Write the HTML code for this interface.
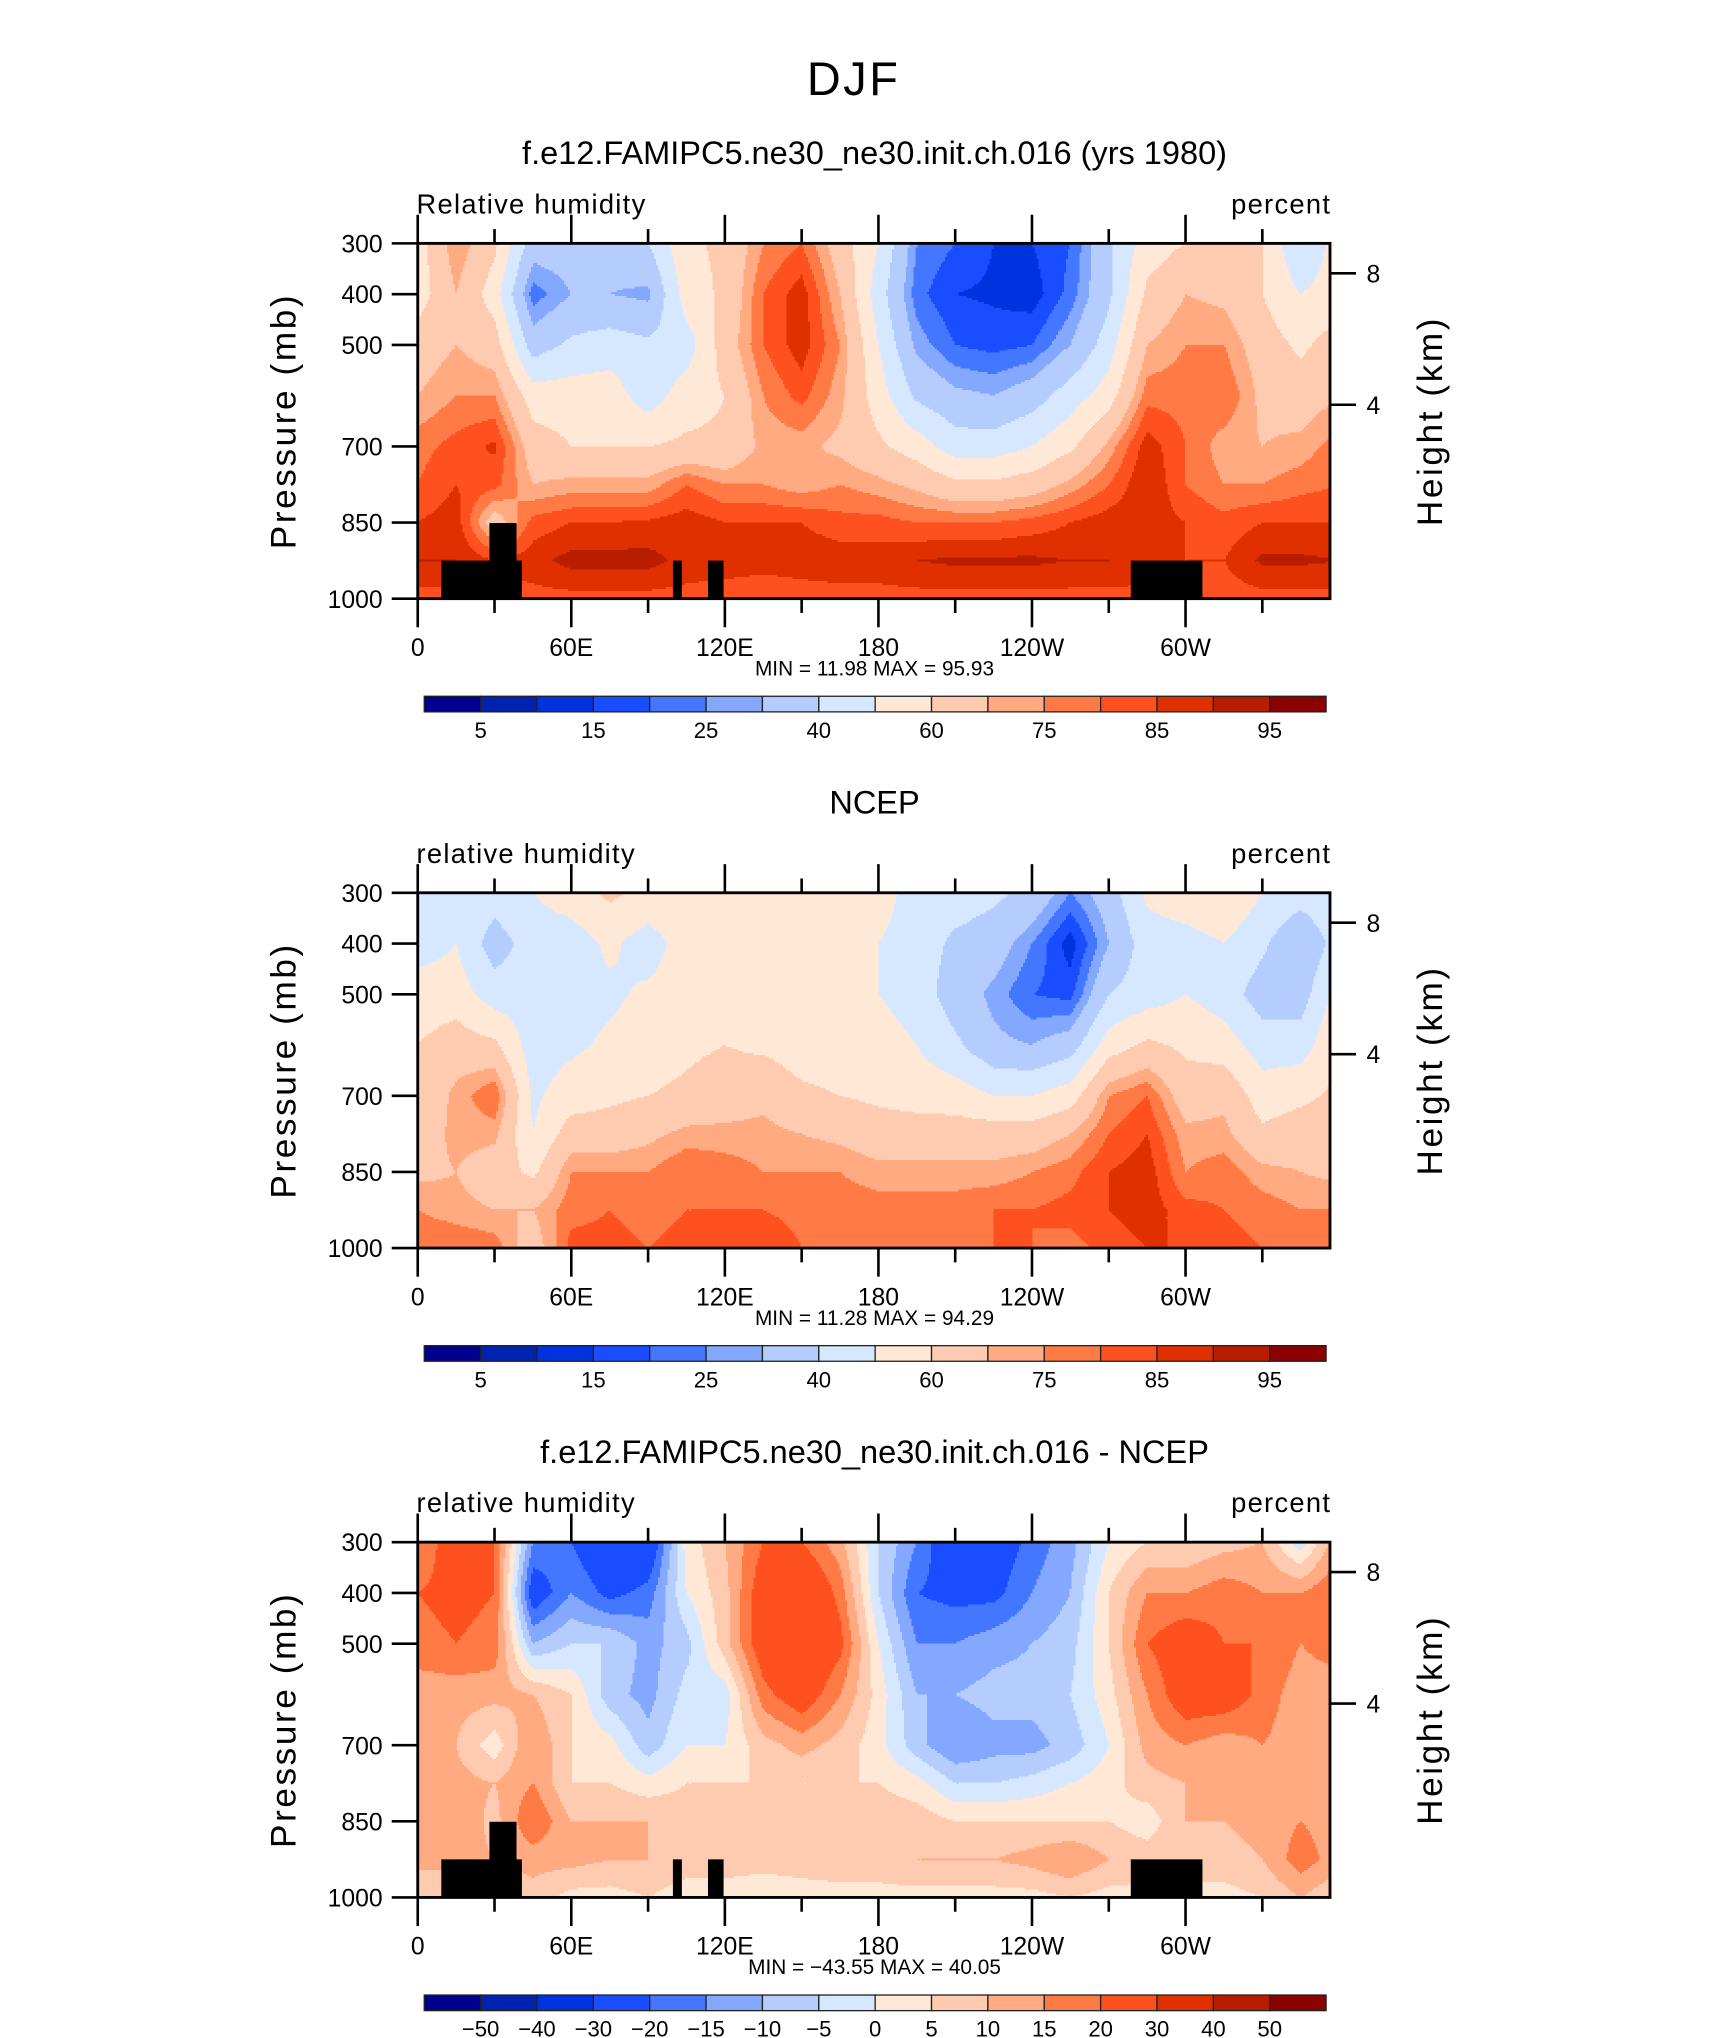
<!DOCTYPE html>
<html><head><meta charset="utf-8"><style>
html,body{margin:0;padding:0;background:#fff}
svg{display:block}
text{font-family:"Liberation Sans",sans-serif;fill:#000}
</style></head><body>
<svg id="fig" width="1710" height="2038" viewBox="0 0 1314 1566" xmlns="http://www.w3.org/2000/svg">
<text x="656" y="73" font-size="36" text-anchor="middle" letter-spacing="2">DJF</text>
</svg>
<script>
// ---- data ----
const lons = [0,15,30,45,60,75,90,105,120,135,150,165,180,195,210,225,240,255,270,285,300,315,330,345];
const levels = [300,400,500,600,700,775,850,925,1000];
const rhLevels = [5,10,15,20,25,30,40,50,60,70,75,80,85,90,95];
const rhLabels = ["5","","15","","25","","40","","60","","75","","85","","95"];
const diffLevels = [-50,-40,-30,-20,-15,-10,-5,0,5,10,15,20,30,40,50];
const diffLabels = ["−50","−40","−30","−20","−15","−10","−5","0","5","10","15","20","30","40","50"];
const colors = ["#00008f","#0022b0","#0033dd","#1a4dff","#4477ff","#85a8ff","#b5ccff","#d6e8ff","#ffe8d6","#ffcbb0","#ffaa80","#ff7a45","#ff5020","#e03000","#b81d00","#8b0000"];
// rows = levels, cols = lons
const model = [
[55,75,62,35,35,35,40,58,62,75,80,65,50,25,20,15,15,20,38,55,60,65,60,40],
[55,70,55,22,30,30,28,55,62,80,88,70,45,22,15,14,12,22,38,62,70,68,60,50],
[65,70,65,35,42,45,42,45,65,80,88,75,50,28,20,18,20,30,45,70,75,75,65,58],
[70,75,75,55,55,55,45,55,60,75,82,72,55,38,32,30,35,45,55,78,78,80,68,65],
[78,82,86,65,60,60,60,62,62,72,72,68,62,55,45,45,50,58,72,88,80,72,70,72],
[80,85,82,70,72,72,72,80,75,75,72,75,72,68,62,62,65,72,80,90,80,75,75,78],
[85,88,65,82,85,85,86,88,85,85,85,82,82,80,80,80,82,85,88,88,85,82,85,85],
[90,90,85,88,92,92,92,88,88,88,88,88,88,90,91,91,91,90,90,88,85,85,91,91],
[83,83,83,83,83,83,83,83,82,80,82,83,83,83,83,83,83,83,83,83,83,82,83,83]];
const ncep = [
[50,50,45,50,55,62,58,58,55,50,55,58,55,45,45,42,38,25,35,52,58,60,50,45],
[45,50,35,45,45,52,45,55,55,55,55,52,50,45,38,35,25,12,30,45,45,50,42,30],
[55,55,45,45,45,48,52,55,55,55,55,52,50,45,35,28,20,18,40,45,50,45,35,35],
[60,65,62,45,48,52,55,58,60,58,55,55,55,50,42,32,30,35,55,62,58,55,45,45],
[62,72,80,48,55,58,60,62,65,68,62,60,58,56,55,50,50,55,75,80,65,68,55,58],
[65,72,72,50,65,65,68,72,72,72,70,68,65,65,65,65,65,70,80,85,72,72,62,65],
[68,70,65,58,75,75,75,80,78,75,75,75,72,72,72,72,75,78,85,88,75,78,72,70],
[75,72,70,70,78,80,78,80,80,80,78,78,78,78,78,80,80,82,85,88,82,80,78,75],
[80,80,78,65,82,82,80,82,82,85,80,80,80,80,80,80,80,78,82,85,85,82,80,78]];
const diff = [
[15,25,20,-15,-20,-28,-28,2,10,20,20,12,-5,-15,-28,-25,-18,-12,0,5,5,8,10,-3],
[20,22,20,-25,-15,-22,-18,0,8,25,30,18,-5,-20,-22,-22,-15,-10,5,15,15,18,15,15],
[18,20,18,-10,-5,-5,-12,-7,8,25,30,22,0,-15,-15,-12,-10,-7,5,20,25,20,20,15],
[12,12,12,10,5,-8,-12,-3,-3,18,25,15,3,-10,-10,-8,-8,-5,3,15,25,25,18,12],
[12,10,2,15,5,2,-8,0,0,8,12,8,2,-8,-15,-12,-12,-8,0,12,15,12,15,12],
[12,12,10,15,5,5,2,5,5,5,5,5,5,2,-5,-5,-3,0,3,8,10,10,12,12],
[12,15,8,20,10,10,10,8,8,10,10,8,8,8,5,5,5,5,5,2,10,10,12,15],
[12,12,10,12,12,10,10,8,8,8,8,8,8,10,10,10,12,15,10,8,8,8,10,18],
[5,5,5,8,3,3,5,2,2,0,2,3,3,3,3,3,3,5,3,3,3,3,5,10]];
// masked topography boxes
const maskLon0 = [9.2,28,99.7,113.4,278.6];
const maskLon1 = [40.7,38.6,103.2,119.5,306.6];
const maskTop = [925,851,925,925,925];

const NS="http://www.w3.org/2000/svg";
const svg=document.getElementById('fig');
function mk(tag,attrs,parent){const e=document.createElementNS(NS,tag);for(const k in attrs)e.setAttribute(k,attrs[k]);(parent||svg).appendChild(e);return e;}
function txt(s,attrs,parent){const e=mk('text',attrs,parent);e.textContent=s;return e;}

const PX0=321,PX1=1022,PH=273,LONW=118/60;
function xOf(lon){return PX0+lon*LONW;}
function interp(field,lon,p){
  let j=0;while(j<levels.length-2&&p>levels[j+1])j++;
  const tp=Math.min(1,Math.max(0,(p-levels[j])/(levels[j+1]-levels[j])));
  let li=Math.floor(lon/15)%24;const tl=(lon-Math.floor(lon/15)*15)/15;const li2=(li+1)%24;
  const a=field[j][li]*(1-tl)+field[j][li2]*tl;
  const b=field[j+1][li]*(1-tl)+field[j+1][li2]*tl;
  return a*(1-tp)+b*tp;
}
function cls(v,lv){let k=0;while(k<lv.length&&v>=lv[k])k++;return k;}

function panel(idx,y0,title,subL,field,lv,labels,hasMask,minTxt,maxTxt){
  const g=mk('g',{});
  const yOf=p=>y0+(p-300)/700*PH;
  txt(title,{x:672,y:y0-61,'font-size':25,'text-anchor':'middle',},g);
  txt(subL,{x:320,y:y0-23,'font-size':21,'letter-spacing':'1',},g);
  txt('percent',{x:1023,y:y0-23,'font-size':21,'letter-spacing':'1','text-anchor':'end',},g);
  const fg=mk('g',{'shape-rendering':'crispEdges'},g);
  const step=1.5, W=PX1-PX0;
  for(let y=0;y<PH;y+=step){
    const p=300+(y+step/2)/PH*700;
    let runStart=0,runC=-1;
    const flush=(xe)=>{if(runC>=0)mk('rect',{x:PX0+runStart,y:y0+y,width:xe-runStart+0.6,height:step+0.6,fill:colors[runC]},fg);};
    for(let x=0;x<W;x+=step){
      const c=cls(interp(field,(x+step/2)/LONW,p),lv);
      if(c!==runC){flush(x);runStart=x;runC=c;}
    }
    flush(W-0.6);
  }
  if(hasMask){
    for(let i=0;i<maskLon0.length;i++){
      const r=mk('rect',{x:xOf(maskLon0[i]),y:yOf(maskTop[i]),width:xOf(maskLon1[i])-xOf(maskLon0[i]),height:y0+PH-yOf(maskTop[i]),fill:'#000'},g);
      
      
    }
  }
  mk('rect',{x:PX0,y:y0,width:W,height:PH,fill:'none',stroke:'#000','stroke-width':2.2,},g);
  [300,400,500,700,850,1000].forEach(p=>{
    mk('line',{x1:PX0-20,x2:PX0,y1:yOf(p),y2:yOf(p),stroke:'#000','stroke-width':2},g);
    txt(String(p),{x:PX0-27,y:yOf(p)+7,'font-size':19,'text-anchor':'end',},g);
  });
  txt('Pressure (mb)',{x:0,y:0,'font-size':27,'text-anchor':'middle',transform:`translate(227,${y0+PH/2}) rotate(-90)`,'letter-spacing':'2',},g);
  [[8,23],[4,124]].forEach(h=>{
    mk('line',{x1:PX1,x2:PX1+20,y1:y0+h[1],y2:y0+h[1],stroke:'#000','stroke-width':2},g);
    txt(String(h[0]),{x:1050,y:y0+h[1]+7,'font-size':19,},g);
  });
  txt('Height (km)',{x:0,y:0,'font-size':27,'text-anchor':'middle',transform:`translate(1108,${y0+PH/2}) rotate(-90)`,'letter-spacing':'2',},g);
  const xl=['0','60E','120E','180','120W','60W'];
  for(let lon=0;lon<360;lon+=30){
    const major=lon%60===0,x=xOf(lon);
    mk('line',{x1:x,x2:x,y1:y0+PH,y2:y0+PH+(major?22:11),stroke:'#000','stroke-width':2},g);
    mk('line',{x1:x,x2:x,y1:y0,y2:y0-(major?22:11),stroke:'#000','stroke-width':2},g);
    if(major)txt(xl[lon/60],{x:x,y:y0+PH+44,'font-size':19,'text-anchor':'middle',},g);
  }
  txt('MIN =  '+minTxt+'   MAX =   '+maxTxt,{x:672,y:y0+PH+59,'font-size':16,'text-anchor':'middle','xml:space':'preserve',},g);
  const cb=mk('g',{},g);
  const cx0=326,cw=693/16,cy=y0+PH+75;
  colors.forEach((c,i)=>{mk('rect',{x:cx0+i*cw,y:cy,width:cw,height:12,fill:c,stroke:'#222','stroke-width':1},cb);});
  labels.forEach((l,i)=>{if(l)txt(l,{x:cx0+(i+1)*cw,y:cy+32,'font-size':17,'text-anchor':'middle',},cb);});
}
panel(1,187,'f.e12.FAMIPC5.ne30_ne30.init.ch.016 (yrs 1980)','Relative humidity',model,rhLevels,rhLabels,true,'11.98','95.93');
panel(2,686,'NCEP','relative humidity',ncep,rhLevels,rhLabels,false,'11.28','94.29');
panel(3,1185,'f.e12.FAMIPC5.ne30_ne30.init.ch.016 - NCEP','relative humidity',diff,diffLevels,diffLabels,true,'−43.55','40.05');
</script>
</body></html>
